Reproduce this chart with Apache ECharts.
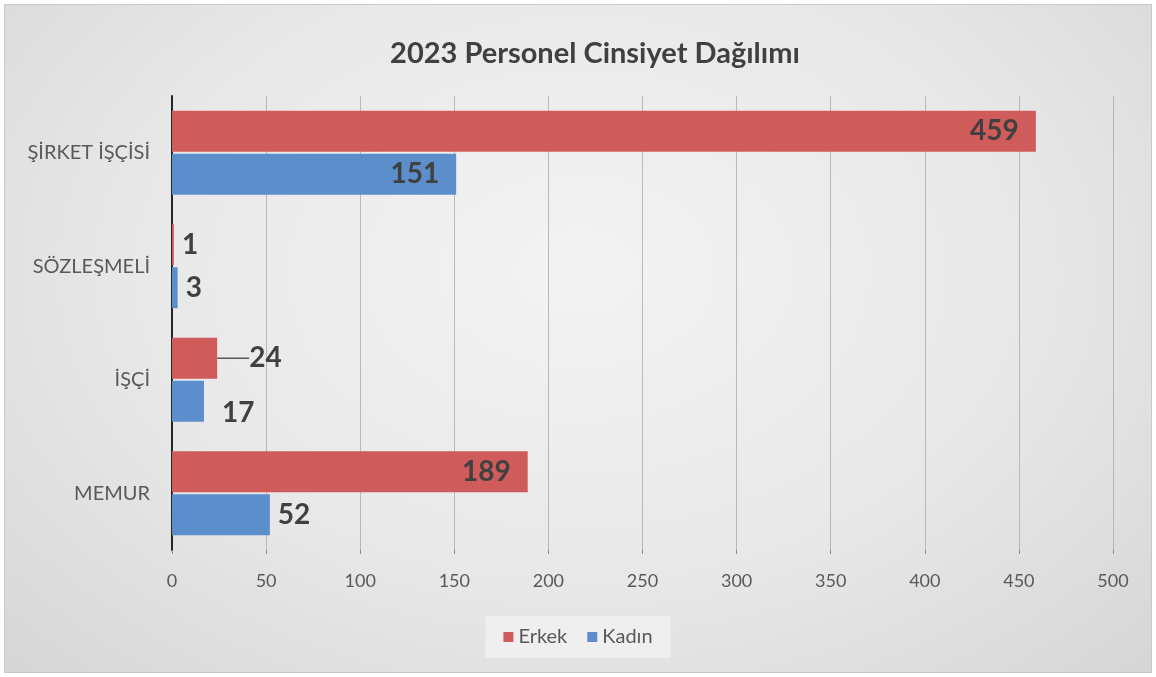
<!DOCTYPE html>
<html><head><meta charset="utf-8">
<script src="https://cdn.jsdelivr.net/npm/echarts@6/dist/echarts.min.js"></script>
<style>
html,body{margin:0;padding:0;width:1156px;height:677px;overflow:hidden;background:#fff;}
#frame{position:absolute;left:4px;top:4px;width:1146px;height:667px;border:1px solid #c8c8c8;
background:radial-gradient(ellipse at 50% 40%, #f3f3f3 0%, #e8e8e8 55%, #d6d6d6 100%);}
#c{position:absolute;left:-5px;top:-5px;width:1156px;height:677px;}
</style></head><body>
<div id="frame"><div id="c"></div></div>
<script>
const categories = ['ŞİRKET İŞÇİSİ', 'SÖZLEŞMELİ', 'İŞÇİ', 'MEMUR'];
const seriesNames = ['Erkek', 'Kadın'];
const erkek = [459, 1, 24, 189];
const kadin = [151, 3, 17, 52];
const xTicks = [0, 50, 100, 150, 200, 250, 300, 350, 400, 450, 500];
const colors = ['#cf5b5b', '#5b8ecb'];
const FONT = 'Lato, "Open Sans", sans-serif';

function items(vals, sIdx) {
  return vals.map((v, i) => {
    const inside = v > 100;
    const it = { value: v, label: { position: inside ? 'insideRight' : 'right', distance: inside ? 17 : 8 } };
    if (sIdx === 0 && i === 2) {
      it.labelLine = { show: true, lineStyle: { color: '#595959', width: 1.5 } };
    }
    if (sIdx === 1 && i === 2) { it.label.distance = 18; it.label.offset = [0, 12]; }
    return it;
  });
}

const chart = echarts.init(document.getElementById('c'));
chart.setOption({
  animation: false,
  title: { text: '2023 Personel Cinsiyet Dağılımı', left: 590, top: 34, textAlign: 'center',
    textStyle: { fontFamily: FONT, fontSize: 29, fontWeight: 'bold', color: '#404040' } },
  legend: { data: seriesNames, bottom: 19, left: 'center', itemWidth: 10, itemHeight: 10, itemGap: 20,
    backgroundColor: 'rgba(240,240,240,0.9)', padding: [11, 18, 11, 18],
    textStyle: { fontFamily: FONT, fontSize: 20, color: '#595959' }, icon: 'rect' },
  grid: { left: 172, right: 43, top: 96, bottom: 127 },
  xAxis: { type: 'value', min: 0, max: 500, interval: 50,
    axisLine: { show: false },
    axisTick: { show: true, length: 4, lineStyle: { color: '#8c8c8c' } },
    splitLine: { show: true, lineStyle: { color: '#b8b8b8', width: 1 } },
    axisLabel: { margin: 22, fontFamily: FONT, fontSize: 18, color: '#595959',
      formatter: v => xTicks.includes(v) ? String(v) : '' } },
  yAxis: { type: 'category', data: categories, inverse: true,
    axisLine: { show: true, lineStyle: { color: '#262626', width: 2 } },
    axisTick: { show: false },
    axisLabel: { margin: 22, fontFamily: FONT, fontSize: 20, color: '#595959' } },
  series: [
    { name: seriesNames[0], type: 'bar', data: items(erkek, 0), barCategoryGap: '26%', barGap: '5%',
      itemStyle: { color: colors[0] },
      labelLayout: p => p.dataIndex === 2 ? { dx: 24 } : {},
      label: { show: true, fontFamily: FONT, fontSize: 28, fontWeight: 'bold', color: '#404040' } },
    { name: seriesNames[1], type: 'bar', data: items(kadin, 1), barCategoryGap: '26%', barGap: '5%',
      itemStyle: { color: colors[1] },
      label: { show: true, fontFamily: FONT, fontSize: 28, fontWeight: 'bold', color: '#404040' } }
  ]
});
</script></body></html>
